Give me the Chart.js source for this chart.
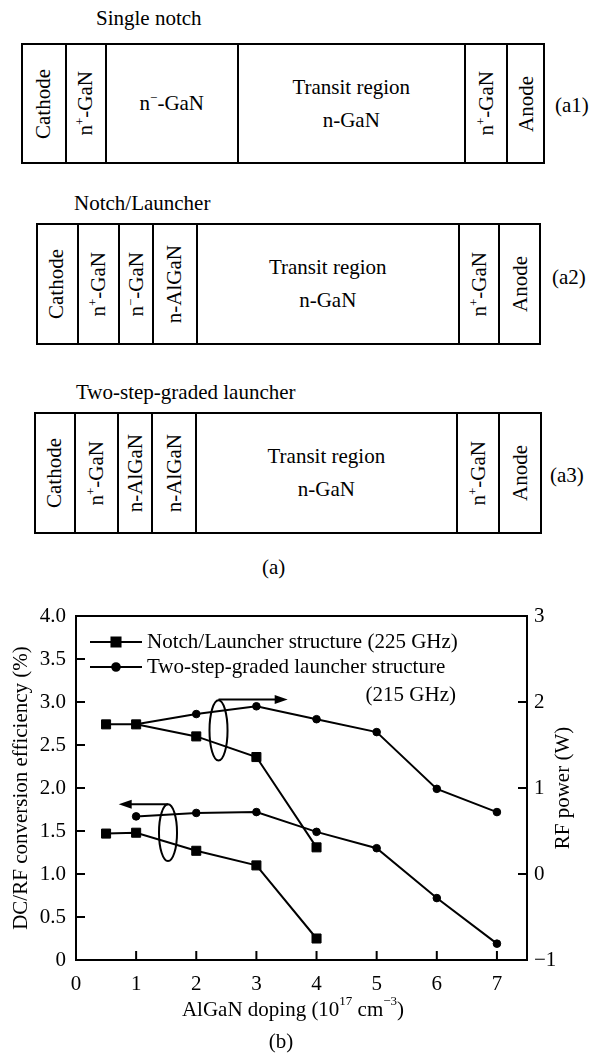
<!DOCTYPE html>
<html>
<head>
<meta charset="utf-8">
<script src="https://cdn.jsdelivr.net/npm/chart.js@4.4.1/dist/chart.umd.min.js"></script>
<style>
  html, body { margin: 0; padding: 0; background: #fff; }
  body {
    width: 590px; height: 1055px; position: relative; overflow: hidden;
    font-family: "Liberation Serif", "Times New Roman", serif; font-size: 21px; color: #000;
  }
  .t { position: absolute; white-space: nowrap; line-height: 1; transform: translateY(-50%); }
  .box { position: absolute; border: 2px solid #000; box-sizing: border-box; }
  .div { position: absolute; top: 0; bottom: 0; width: 2px; background: #000; margin-left: -1px; }
  .cell { position: absolute; top: 0; bottom: 0; display: flex; align-items: center; justify-content: center; text-align: center; line-height: 33px; white-space: nowrap; }
  .v { writing-mode: vertical-rl; transform: rotate(180deg); line-height: 1; }
  sup { font-size: 13px; vertical-align: 8px; line-height: 0; }
  .v sup { vertical-align: 5px; }
  #wrap { position: absolute; left: 0; top: 590px; width: 590px; height: 465px; }
</style>
</head>
<body>
<div id="diagrams"></div>
<div id="wrap"><canvas id="chartB" width="590" height="465"></canvas></div>

<script>
// ---- data ----
const dopingNotch  = [0.5, 1, 2, 3, 4];
const effNotch     = [1.47, 1.48, 1.27, 1.10, 0.25];   // left axis, %
const rfNotch      = [1.74, 1.74, 1.60, 1.36, 0.31];   // right axis, W
const dopingGraded = [1, 2, 3, 4, 5, 6, 7];
const effGraded    = [1.67, 1.71, 1.72, 1.49, 1.30, 0.72, 0.19];
const rfGraded     = [1.74, 1.86, 1.95, 1.80, 1.65, 0.99, 0.72];

const xTicks   = [0, 1, 2, 3, 4, 5, 6, 7];
const effTicks = [0, 0.5, 1, 1.5, 2, 2.5, 3, 3.5, 4];
const rfTicks  = [-1, 0, 1, 2, 3];

const legendLines = ["Notch/Launcher structure (225 GHz)", "Two-step-graded launcher structure", "(215 GHz)"];

// group markers, in axis units of x / left y: [cx, cy, rx, ry]
const groupEllipses = [[2.37, 2.67, 0.15, 0.35], [1.53, 1.48, 0.15, 0.33]];
// arrows from ellipse top: [xStart, y, xEnd]
const groupArrows = [[2.37, 3.03, 3.52], [1.53, 1.81, 0.71]];

// ---- structure diagrams (a1)-(a3) ----
const SUPP = "n<sup>+</sup>-GaN", SUPM = "n<sup>\u2212</sup>-GaN", TR = "Transit region<br>n-GaN";
const diagrams = [
  { title: "Single notch", tx: 96, ty: 18, top: 43, bottom: 164, tag: "(a1)", tagX: 555, tagY: 105,
    edges: [21, 65.5, 106, 237.6, 465, 507, 545],
    cells: [["Cathode", 1], [SUPP, 1], [SUPM, 0], [TR, 0], [SUPP, 1], ["Anode", 1]] },
  { title: "Notch/Launcher", tx: 74, ty: 203, top: 223, bottom: 345, tag: "(a2)", tagX: 552, tagY: 277,
    edges: [36, 77.6, 119.2, 153.2, 196.7, 458.9, 499.4, 541],
    cells: [["Cathode", 1], [SUPP, 1], [SUPM, 1], ["n-AlGaN", 1], [TR, 0], [SUPP, 1], ["Anode", 1]] },
  { title: "Two-step-graded launcher", tx: 76, ty: 392, top: 412, bottom: 534, tag: "(a3)", tagX: 550, tagY: 475,
    edges: [34, 74.5, 118, 152, 196, 456.7, 499.4, 542],
    cells: [["Cathode", 1], [SUPP, 1], ["n-AlGaN", 1], ["n-AlGaN", 1], [TR, 0], [SUPP, 1], ["Anode", 1]] }
];

function buildDiagrams(){
  const root = document.getElementById("diagrams");
  let html = "";
  for (const d of diagrams){
    const L = d.edges[0], R = d.edges[d.edges.length - 1];
    html += `<div class="t" style="left:${d.tx}px;top:${d.ty}px">${d.title}</div>`;
    html += `<div class="box" style="left:${L}px;top:${d.top}px;width:${R - L}px;height:${d.bottom - d.top}px">`;
    for (let i = 1; i < d.edges.length - 1; i++){
      html += `<div class="div" style="left:${d.edges[i] - L - 2}px"></div>`;
    }
    d.cells.forEach((c, i) => {
      const x0 = d.edges[i] - L - 2, w = d.edges[i + 1] - d.edges[i];
      const inner = c[1] ? `<span class="v">${c[0]}</span>` : `<span>${c[0]}</span>`;
      html += `<div class="cell" style="left:${x0}px;width:${w}px">${inner}</div>`;
    });
    html += `</div>`;
    html += `<div class="t" style="left:${d.tagX}px;top:${d.tagY}px">${d.tag}</div>`;
  }
  html += `<div class="t" style="left:262px;top:567px">(a)</div>`;
  root.innerHTML = html;
}
buildDiagrams();

// ---- chart (b) ----
const F = "'Liberation Serif', 'Times New Roman', serif";
const BLACK = "#000";
Chart.defaults.font.family = F;
Chart.defaults.font.size = 21;
Chart.defaults.color = BLACK;

function series(xs, ys, axis, style, r){
  return {
    data: xs.map((x, i) => ({ x, y: ys[i] })),
    yAxisID: axis,
    borderColor: BLACK, backgroundColor: BLACK, borderWidth: 2,
    pointStyle: style, pointRadius: r, pointHoverRadius: r, pointBorderWidth: 1,
    tension: 0, fill: false
  };
}

const extras = {
  id: "extras",
  afterDatasetsDraw(chart){
    const { ctx, scales: { x, y } } = chart;
    ctx.save();
    ctx.strokeStyle = BLACK; ctx.fillStyle = BLACK; ctx.lineWidth = 2;
    for (const e of groupEllipses){
      const cx = x.getPixelForValue(e[0]), cy = y.getPixelForValue(e[1]);
      const rx = x.getPixelForValue(e[0] + e[2]) - cx, ry = cy - y.getPixelForValue(e[1] + e[3]);
      ctx.beginPath(); ctx.ellipse(cx, cy, rx, ry, 0, 0, Math.PI * 2); ctx.stroke();
    }
    for (const a of groupArrows){
      const x0 = x.getPixelForValue(a[0]), yy = y.getPixelForValue(a[1]), x1 = x.getPixelForValue(a[2]);
      const dir = Math.sign(x1 - x0);
      ctx.beginPath(); ctx.moveTo(x0, yy); ctx.lineTo(x1 - dir * 10, yy); ctx.stroke();
      ctx.beginPath(); ctx.moveTo(x1, yy); ctx.lineTo(x1 - dir * 13, yy - 4.5); ctx.lineTo(x1 - dir * 13, yy + 4.5); ctx.closePath(); ctx.fill();
    }
    ctx.restore();
  },
  afterDraw(chart){
    const { ctx, chartArea: a, scales: { x, y, y1 } } = chart;
    const ds = chart.data.datasets;
    ctx.save();
    ctx.strokeStyle = BLACK; ctx.fillStyle = BLACK; ctx.lineWidth = 2;
    // top frame line
    ctx.beginPath(); ctx.moveTo(a.left - 1, a.top); ctx.lineTo(a.right + 1, a.top); ctx.stroke();
    // inward tick marks
    ctx.beginPath();
    xTicks.slice(1).forEach(v => { const p = x.getPixelForValue(v); ctx.moveTo(p, a.bottom); ctx.lineTo(p, a.bottom - 9); });
    effTicks.slice(1, -1).forEach(v => { const p = y.getPixelForValue(v); ctx.moveTo(a.left, p); ctx.lineTo(a.left + 9, p); });
    rfTicks.slice(1, -1).forEach(v => { const p = y1.getPixelForValue(v); ctx.moveTo(a.right, p); ctx.lineTo(a.right - 9, p); });
    ctx.stroke();

    // legend
    ctx.font = `21px ${F}`;
    ctx.textBaseline = "middle";
    const rows = [[ds[0], 52], [ds[2], 77]];
    rows.forEach(([d, yy], i) => {
      ctx.beginPath(); ctx.moveTo(90, yy); ctx.lineTo(142, yy); ctx.stroke();
      Chart.helpers.drawPoint(ctx, { pointStyle: d.pointStyle, radius: d.pointRadius, borderWidth: 1, rotation: 0 }, 116, yy);
      ctx.textAlign = "left";
      ctx.fillText(legendLines[i], 147, yy);
    });
    ctx.textAlign = "right";
    ctx.fillText(legendLines[2], 456, 105);

    // right axis title (reads bottom to top)
    ctx.save();
    ctx.translate(563, (a.top + a.bottom) / 2);
    ctx.rotate(-Math.PI / 2);
    ctx.textAlign = "center";
    ctx.fillText("RF power (W)", 0, 0);
    ctx.restore();

    // x axis title with superscripts
    const parts = [["AlGaN doping (10", 0], ["17", 1], [" cm", 0], ["\u22123", 1], [")", 0]];
    const fN = `21px ${F}`, fS = `13px ${F}`;
    let total = 0;
    for (const p of parts){ ctx.font = p[1] ? fS : fN; total += ctx.measureText(p[0]).width; }
    let cx = 293 - total / 2;
    ctx.textAlign = "left";
    for (const p of parts){
      ctx.font = p[1] ? fS : fN;
      ctx.fillText(p[0], cx, p[1] ? 412 : 420);
      cx += ctx.measureText(p[0]).width;
    }
    ctx.font = fN;
    ctx.textAlign = "center";
    ctx.fillText("(b)", 281, 452);
    ctx.restore();
  }
};

new Chart(document.getElementById("chartB"), {
  type: "line",
  data: {
    datasets: [
      series(dopingNotch, effNotch, "y", "rect", 6.4),
      series(dopingNotch, rfNotch, "y1", "rect", 6.4),
      series(dopingGraded, effGraded, "y", "circle", 3.8),
      series(dopingGraded, rfGraded, "y1", "circle", 3.8)
    ]
  },
  options: {
    responsive: false,
    animation: false,
    layout: { padding: { top: 26, left: 0, right: 0, bottom: 0 } },
    plugins: { legend: { display: false }, tooltip: { enabled: false } },
    scales: {
      x: {
        type: "linear", min: 0, max: 7.5,
        afterBuildTicks: s => { s.ticks = xTicks.map(v => ({ value: v })); },
        afterFit: s => { s.height = 95; },
        grid: { display: false, drawTicks: false },
        border: { display: true, color: BLACK, width: 2 },
        ticks: { color: BLACK, padding: 12, maxRotation: 0, callback: v => String(v) }
      },
      y: {
        type: "linear", position: "left", min: 0, max: 4,
        afterBuildTicks: s => { s.ticks = effTicks.map(v => ({ value: v })); },
        afterFit: s => { s.width = 76; },
        grid: { display: false, drawTicks: false },
        border: { display: true, color: BLACK, width: 2 },
        ticks: { color: BLACK, padding: 10, callback: v => v === 0 ? "0" : v.toFixed(1) },
        title: { display: true, text: "DC/RF conversion efficiency (%)", color: BLACK, padding: { top: 8.4, bottom: 0 } }
      },
      y1: {
        type: "linear", position: "right", min: -1, max: 3,
        afterBuildTicks: s => { s.ticks = rfTicks.map(v => ({ value: v })); },
        afterFit: s => { s.width = 63; },
        grid: { display: false, drawTicks: false },
        border: { display: true, color: BLACK, width: 2 },
        ticks: { color: BLACK, padding: 7, callback: v => v < 0 ? "\u2212" + Math.abs(v) : String(v) }
      }
    }
  },
  plugins: [extras]
});
</script>
</body>
</html>
